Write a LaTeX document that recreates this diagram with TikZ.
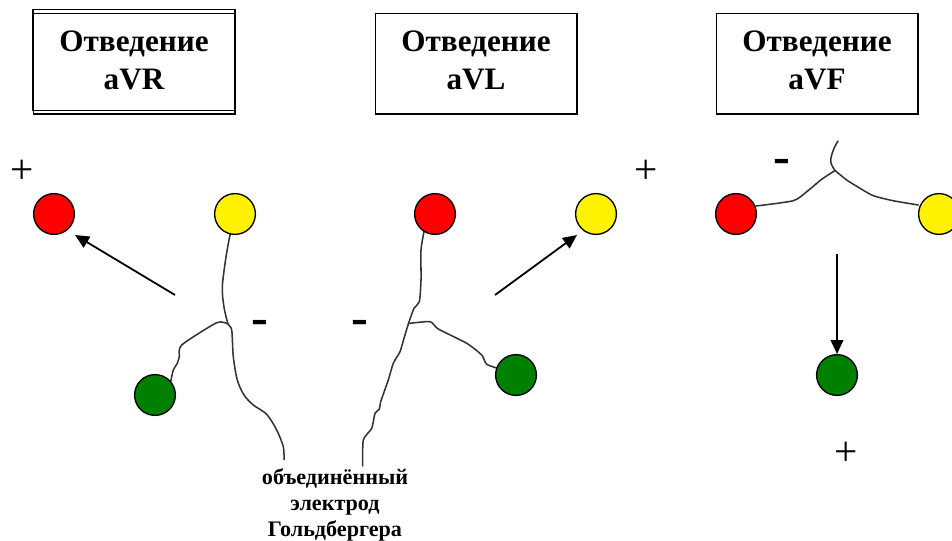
\documentclass[tikz,border=0pt]{standalone}
\usepackage{fontspec}
\setmainfont{Liberation Serif}
\usetikzlibrary{arrows.meta}
\tikzset{
  elec/.style={circle,draw=black,line width=1pt,minimum size=30.6pt,inner sep=0pt,outer sep=0pt},
  leadbox/.style={draw=black,line width=1pt,minimum width=151.5pt,minimum height=75.75pt,align=center,inner sep=0pt,
    font=\fontsize{23.4}{28.5}\selectfont\bfseries},
  wire/.style={line width=1.15pt,draw=black!80,line join=round,line cap=round},
  vec/.style={line width=1.35pt,draw=black,-{Triangle[length=10.5pt,width=9.5pt]}},
  plus/.style={font=\fontsize{31}{31}\selectfont,inner sep=0pt},
  minus/.style={font=\fontsize{38}{38}\selectfont\bfseries,inner sep=0pt},
  caption/.style={align=center,inner sep=0pt,font=\fontsize{16.6}{19.5}\selectfont\bfseries}
}
\begin{document}
\begin{tikzpicture}[x=0.75pt,y=-0.75pt]
\clip (0,0) rectangle (952,541);
\fill[white] (0,0) rectangle (952,541);
% titles
\node[leadbox] (boxR) at (134,60) {Отведение\\aVR};
\node[leadbox,minimum height=0pt,draw=none] (tR) at (134,60) {};
\draw[line width=1pt] (33.5,13.5) rectangle (235,114);
\node[leadbox,draw=none] (boxL) at (476,60) {Отведение\\aVL};
\draw[line width=1pt] (375.5,13.5) rectangle (577,114);
\node[leadbox,draw=none] (boxF) at (817,60) {Отведение\\aVF};
\draw[line width=1pt] (716.5,13.5) rectangle (918,114);
% signs
\node[plus] (plusR) at (22,172) {+};
\node[plus] (plusL) at (646,172) {+};
\node[plus] (plusF) at (846,454) {+};
\node[minus] (minusR) at (260,327) {-};
\node[minus] (minusL) at (360,327) {-};
\node[minus] (minusF) at (782,166) {-};
% junctions and free ends
\coordinate (jR) at (228,324);
\coordinate (jL) at (408.5,323.5);
\coordinate (jF) at (835,170.5);
\coordinate (endR) at (284,459.5);
\coordinate (endL) at (362.7,466);
\coordinate (endF) at (838,141);
\coordinate (fromR) at (175,295);
\coordinate (toR) at (75,235);
\coordinate (fromL) at (495,295);
\coordinate (toL) at (577,235);
\coordinate (fromF) at (837,254);
\coordinate (toF) at (837,354);
% wires
\draw[wire] plot[smooth,tension=0.5] coordinates {(230.3,233.3) (226,257) (222.3,287) (224,307) (jR) (231.7,330) (233.3,356.7) (237.3,380) (244,395) (253.3,405) (266.7,414.3) (276.7,430) (283.3,446.7) (endR)};
\draw[wire] plot[smooth,tension=0.4] coordinates {(jR) (216.7,322.7) (181.7,345) (179.3,356.7) (177.3,363.3) (173.3,370) (170.7,381.7)};
\draw[wire] plot[smooth,tension=0.4] coordinates {(424,231.7) (421,250) (421,280) (419.3,301.7) (414,308.3) (jL) (404,338.3) (400,351.7) (393.3,363.3) (388.3,380) (380.7,401.7) (379.3,409.3) (375,413.3) (371.7,428.3) (363.3,440) (endL)};
\draw[wire] plot[smooth,tension=0.4] coordinates {(jL) (430,321.7) (438.3,329) (466.7,343.3) (481.7,355) (486.7,364.3) (500,369)};
\draw[wire] plot[smooth,tension=0.4] coordinates {(756,206) (793.3,200.7) (806.7,191.7) (821.7,179.3) (jF)};
\draw[wire] plot[smooth,tension=0.4] coordinates {(jF) (846.7,180) (860,188.3) (873.3,195.7) (893,200.7) (918.3,205)};
\draw[wire] plot[smooth,tension=0.6] coordinates {(jF) (830.7,161.7) (833.3,150) (endF)};
% electrodes
\node[elec,fill=red] (redR) at (54,214) {};
\node[elec,fill=yellow] (yellowR) at (235,214) {};
\node[elec,fill={rgb,255:red,0;green,128;blue,0}] (greenR) at (155,395) {};
\node[elec,fill=red] (redL) at (435,214) {};
\node[elec,fill=yellow] (yellowL) at (596,214) {};
\node[elec,fill={rgb,255:red,0;green,128;blue,0}] (greenL) at (516,375) {};
\node[elec,fill=red] (redF) at (736,214) {};
\node[elec,fill=yellow] (yellowF) at (939,214) {};
\node[elec,fill={rgb,255:red,0;green,128;blue,0}] (greenF) at (837,375) {};
% vectors
\draw[vec] (fromR) -- (toR);
\draw[vec] (fromL) -- (toL);
\draw[vec] (fromF) -- (toF);
% caption
\node[caption] (cap) at (335,505) {объединённый\\электрод\\Гольдбергера};
\end{tikzpicture}
\end{document}
